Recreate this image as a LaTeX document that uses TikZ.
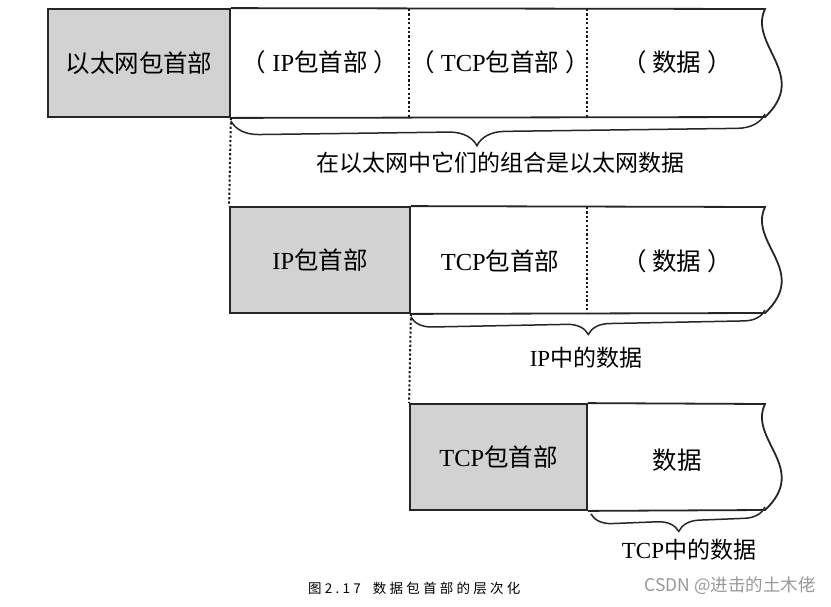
\documentclass[tikz,border=0pt]{standalone}
\usepackage{fontspec}
\setmainfont{Liberation Serif}
\newfontfamily\cjk{Noto Sans CJK SC}
\newfontfamily\capfont[LetterSpace=24]{Noto Sans CJK SC}
\usetikzlibrary{decorations.pathreplacing}
\newcommand\lp{{\cjk （}\hspace{6pt}}
\newcommand\rp{\hspace{6pt}{\cjk ）}}
\begin{document}
\begin{tikzpicture}[x=1pt,y=-1pt,
  outl/.style={line width=1.8pt, draw=black!85},
  hdr/.style={outl, fill=gray!35, inner sep=0pt, minimum height=#1, font=\fontsize{24.5}{27}\selectfont},
  txt/.style={font=\fontsize{24.5}{27}\selectfont, inner sep=0pt},
  lbl/.style={font=\fontsize{23}{26}\selectfont, inner sep=0pt},
  div/.style={dash pattern=on 2.2pt off 2.2pt, line width=2pt, draw=black!90},
  brc/.style={decorate, decoration={brace, mirror, amplitude=#1}, line width=1.5pt, draw=black!85}]
\useasboundingbox (0,0) rectangle (831,606);
\fill[white] (0,0) rectangle (831,606);

% ---- row 1
\node[hdr=108pt, minimum width=182pt] (eth) at (139,63) {\cjk 以太网包首部};
\coordinate (r1t) at (765,9);
\draw[outl] (eth.north east) -- (r1t) .. controls +(-17,36) and +(45,-42) .. +(0,108) coordinate (r1b) -- (eth.south east);
\coordinate (d1t) at (409,9); \coordinate (d1b) at (409,117);
\coordinate (d2t) at (587,9); \coordinate (d2b) at (587,117);
\draw[div] (d1t) -- (d1b);
\draw[div] (d2t) -- (d2b);
\node[txt] (ip1) at (320,62) {\lp IP{\cjk 包首部}\rp};
\node[txt] (tcp1) at (500,62) {\lp TCP{\cjk 包首部}\rp};
\node[txt] (dat1) at (677,62) {\lp{\cjk 数据}\rp};
\draw[brc=28pt, decoration={aspect=0.46}] ([yshift=-3pt]eth.south east) -- ([yshift=3pt]r1b);
\node[lbl] (l1) at (500,163) {\cjk 在以太网中它们的组合是以太网数据};

% ---- row 2
\node[hdr=106pt, minimum width=180pt] (iph) at (320,260) {IP{\cjk 包首部}};
\draw[div] (eth.south east) -- (iph.north west);
\coordinate (r2t) at (765,207);
\draw[outl] (iph.north east) -- (r2t) .. controls +(-17,36) and +(45,-42) .. +(0,106) coordinate (r2b) -- (iph.south east);
\coordinate (d3t) at (587,207); \coordinate (d3b) at (587,313);
\draw[div] (d3t) -- (d3b);
\node[txt] (tcp2) at (500,261) {TCP{\cjk 包首部}};
\node[txt] (dat2) at (677,261) {\lp{\cjk 数据}\rp};
\draw[brc=21pt] ([yshift=-3pt]iph.south east) -- ([yshift=3pt]r2b);
\node[lbl] (l2) at (586,358) {IP{\cjk 中的数据}};

% ---- row 3
\node[hdr=106pt, minimum width=177pt] (tcph) at (498.5,457) {TCP{\cjk 包首部}};
\draw[div] (iph.south east) -- (tcph.north west);
\coordinate (r3t) at (765,404);
\draw[outl] (tcph.north east) -- (r3t) .. controls +(-17,36) and +(45,-42) .. +(0,106) coordinate (r3b) -- (tcph.south east);
\node[txt] (dat3) at (677,460) {\cjk 数据};
\draw[brc=21pt] ([xshift=3pt,yshift=-3pt]tcph.south east) -- ([yshift=3pt]r3b);
\node[lbl] (l3) at (689,550) {TCP{\cjk 中的数据}};

% ---- caption and watermark
\node[anchor=west, inner sep=0pt, font=\fontsize{13.5}{15}\selectfont] (cap) at (308,588) {\capfont 图2.17\hspace{12pt}数据包首部的层次化};
\node[anchor=east, inner sep=0pt, text=black!40, font=\fontsize{17.5}{20}\selectfont] (wm) at (816,586) {\cjk CSDN @进击的土木佬};
\end{tikzpicture}
\end{document}
